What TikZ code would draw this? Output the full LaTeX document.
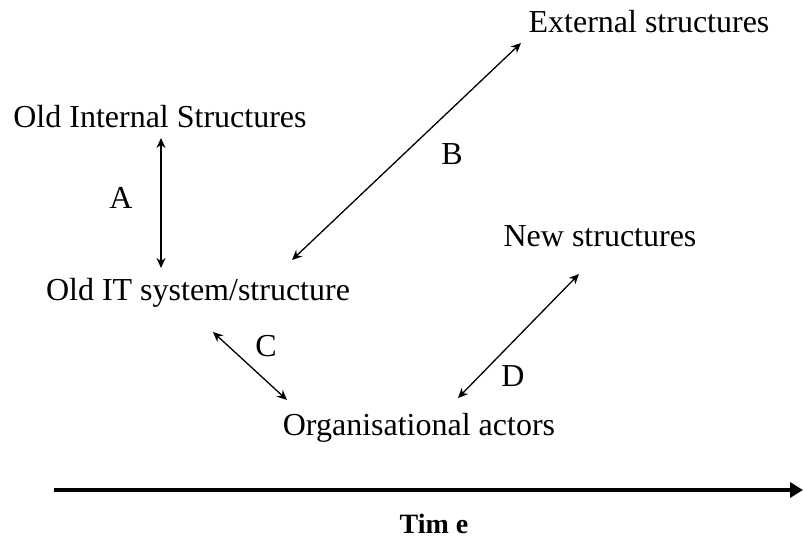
\documentclass[tikz,border=0pt]{standalone}
\usepackage{fontspec}
\setmainfont{Liberation Serif}
\usetikzlibrary{arrows.meta}
\begin{document}
\begin{tikzpicture}[x=1pt,y=1pt,
  lbl/.style={inner sep=0pt,anchor=base,font=\fontsize{32}{36}\selectfont},
  rel/.style={{Stealth[length=10pt,width=9pt]}-{Stealth[length=10pt,width=9pt]},line width=1.3pt},
  timearrow/.style={-{Triangle[length=13pt,width=15pt]},line width=3.5pt}]
\useasboundingbox (0,0) rectangle (803,538);
\node[lbl] (ext) at (649,505) {External structures};
\node[lbl] (oldint) at (160,410) {Old Internal Structures};
\node[lbl] (oldit) at (198,237) {Old IT system/structure};
\node[lbl] (new) at (600,291) {New structures};
\node[lbl] (org) at (419,102) {Organisational actors};
\node[lbl] (la) at (121,329) {A};
\node[lbl] (lb) at (452,373) {B};
\node[lbl] (lc) at (266,181) {C};
\node[lbl] (ld) at (513,151) {D};
\node[inner sep=0pt,anchor=base,font=\fontsize{28}{32}\selectfont\bfseries] (time) at (434,5) {Tim e};
\coordinate (a1) at (161,400);
\coordinate (a2) at (161,270);
\coordinate (b1) at (521,495);
\coordinate (b2) at (292,278);
\coordinate (c1) at (213,206);
\coordinate (c2) at (287,138);
\coordinate (d1) at (579,264);
\coordinate (d2) at (458,140);
\coordinate (t1) at (54,48);
\coordinate (t2) at (803,48);
\draw[rel] (a1) -- (a2);
\draw[rel] (b1) -- (b2);
\draw[rel] (c1) -- (c2);
\draw[rel] (d1) -- (d2);
\draw[timearrow] (t1) -- (t2);
\end{tikzpicture}
\end{document}
